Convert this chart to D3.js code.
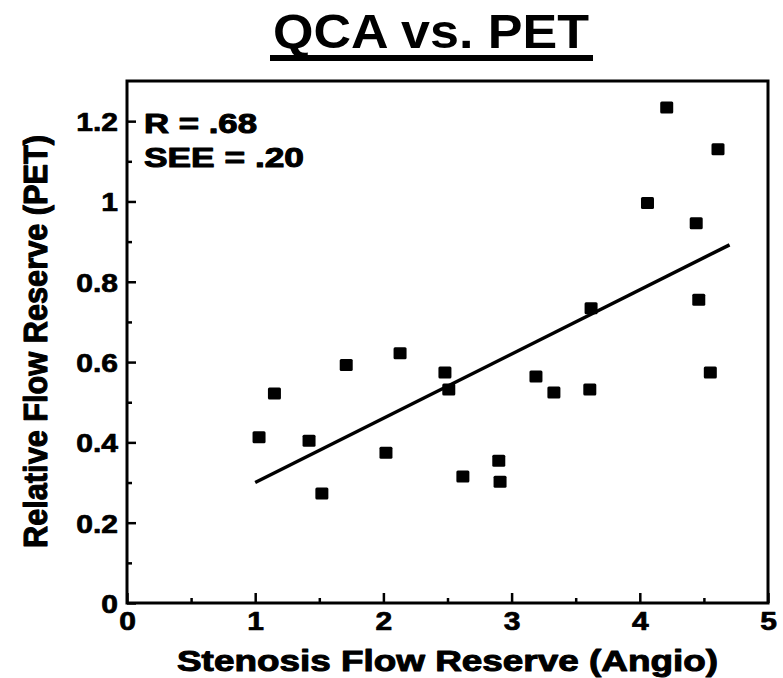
<!DOCTYPE html>
<html>
<head>
<meta charset="utf-8">
<script src="https://cdn.jsdelivr.net/npm/d3@7"></script>
<style>
  html, body { margin: 0; padding: 0; background: #fff; }
  svg { display: block; }
  text { font-family: "Liberation Sans", Arial, Helvetica, sans-serif; font-weight: bold; fill: #000; }
  .heavy { stroke: #000; stroke-width: 1px; stroke-linejoin: round; }
  .tick text { stroke: #000; stroke-width: 0.7px; stroke-linejoin: round; }
</style>
</head>
<body>
<svg id="chart" width="783" height="678"></svg>
<script>
// ---- data ----
const title = "QCA vs. PET";
const xTitle = "Stenosis Flow Reserve (Angio)";
const yTitle = "Relative Flow Reserve (PET)";
const annotations = ["R = .68", "SEE = .20"];

const xValues = [4.21, 4.61, 4.06, 4.44, 4.46, 3.62, 2.13, 1.71, 1.15, 1.03, 1.42,
                 1.52, 2.02, 2.48, 2.51, 3.19, 3.33, 3.61, 4.55, 2.62, 2.90, 2.91];
const yValues = [1.234, 1.13, 0.996, 0.946, 0.755, 0.734, 0.622, 0.593, 0.522, 0.413, 0.404,
                 0.273, 0.374, 0.574, 0.532, 0.564, 0.524, 0.532, 0.574, 0.315, 0.354, 0.302];

const fitX = [1.0, 4.7];
const fitY = [0.30, 0.892];

const xMajorTicks = [0, 1, 2, 3, 4, 5];
const xMinorTicks = [0.5, 1.5, 2.5, 3.5, 4.5];
const yMajorTicks = [0, 0.2, 0.4, 0.6, 0.8, 1, 1.2];
const yMinorTicks = [0.1, 0.3, 0.5, 0.7, 0.9, 1.1];
const yTickLabels = ["0", "0.2", "0.4", "0.6", "0.8", "1", "1.2"];
const xTickLabels = ["0", "1", "2", "3", "4", "5"];

(function () {
// ---- layout ----
const svg = d3.select("#chart");
const pLeft = 127, pRight = 768, pTop = 81, pBottom = 603;
const sx = 1.2; // horizontal stretch of the printed lettering

const x = d3.scaleLinear().domain([0, 5]).range([pLeft, pRight]);
const y = d3.scaleLinear().domain([0, 1.3]).range([pBottom, pTop]);

// title
svg.append("text")
  .attr("x", 431).attr("y", 48)
  .attr("text-anchor", "middle")
  .attr("font-size", 49)
  .attr("textLength", 316).attr("lengthAdjust", "spacingAndGlyphs")
  .text(title);
svg.append("rect")
  .attr("x", 270).attr("y", 55).attr("width", 323).attr("height", 6)
  .attr("fill", "#000");

// axes - major
const yAxis = d3.axisLeft(y)
  .tickValues(yMajorTicks)
  .tickFormat((d, i) => yTickLabels[i])
  .tickSizeInner(-9).tickSizeOuter(0).tickPadding(0);
const gy = svg.append("g").attr("transform", `translate(${pLeft},0)`).call(yAxis);
gy.select(".domain").remove();
gy.selectAll("line").attr("stroke", "#000").attr("stroke-width", 2.5);
gy.selectAll("text")
  .attr("font-size", 25).attr("font-family", null)
  .attr("x", -9 / sx).attr("dy", "0.38em")
  .attr("transform", `scale(${sx},1)`);

const xAxis = d3.axisBottom(x)
  .tickValues(xMajorTicks)
  .tickFormat((d, i) => xTickLabels[i])
  .tickSizeInner(-10).tickSizeOuter(0).tickPadding(0);
const gx = svg.append("g").attr("transform", `translate(0,${pBottom})`).call(xAxis);
gx.select(".domain").remove();
gx.selectAll("line").attr("stroke", "#000").attr("stroke-width", 2.5);
gx.selectAll("text")
  .attr("font-size", 25).attr("font-family", null)
  .attr("y", 27).attr("dy", 0)
  .attr("transform", `scale(${sx},1)`);

// axes - minor
const gym = svg.append("g").attr("transform", `translate(${pLeft},0)`)
  .call(d3.axisLeft(y).tickValues(yMinorTicks).tickFormat("").tickSizeInner(-5).tickSizeOuter(0));
gym.select(".domain").remove();
gym.selectAll("line").attr("stroke", "#000").attr("stroke-width", 2.5);

const gxm = svg.append("g").attr("transform", `translate(0,${pBottom})`)
  .call(d3.axisBottom(x).tickValues(xMinorTicks).tickFormat("").tickSizeInner(-5).tickSizeOuter(0));
gxm.select(".domain").remove();
gxm.selectAll("line").attr("stroke", "#000").attr("stroke-width", 2.5);

// frame
svg.append("rect")
  .attr("x", x(0)).attr("y", y(1.3))
  .attr("width", x(5) - x(0)).attr("height", y(0) - y(1.3))
  .attr("fill", "none").attr("stroke", "#000").attr("stroke-width", 3);

// regression line
svg.append("line")
  .attr("x1", x(fitX[0])).attr("y1", y(fitY[0]))
  .attr("x2", x(fitX[1])).attr("y2", y(fitY[1]))
  .attr("stroke", "#000").attr("stroke-width", 3.5);

// points
const pts = xValues.map((v, i) => ({ x: v, y: yValues[i] }));
const mw = 13, mh = 12;
svg.append("g").selectAll("rect").data(pts).join("rect")
  .attr("x", d => x(d.x) - mw / 2).attr("y", d => y(d.y) - mh / 2)
  .attr("width", mw).attr("height", mh).attr("rx", 1.5)
  .attr("fill", "#000");

// annotations
svg.append("text").attr("class", "heavy").attr("x", 144).attr("y", 133)
  .attr("font-size", 27)
  .attr("textLength", 113).attr("lengthAdjust", "spacingAndGlyphs")
  .text(annotations[0]);
svg.append("text").attr("class", "heavy").attr("x", 144).attr("y", 167)
  .attr("font-size", 27)
  .attr("textLength", 160).attr("lengthAdjust", "spacingAndGlyphs")
  .text(annotations[1]);

// axis titles
svg.append("text").attr("class", "heavy")
  .attr("x", (pLeft + pRight) / 2).attr("y", 671)
  .attr("text-anchor", "middle")
  .attr("font-size", 30)
  .attr("textLength", 541).attr("lengthAdjust", "spacingAndGlyphs")
  .text(xTitle);

svg.append("text").attr("class", "heavy")
  .attr("transform", `translate(47,341.5) rotate(-90) scale(1,1.08)`)
  .attr("text-anchor", "middle")
  .attr("font-size", 31)
  .attr("textLength", 413).attr("lengthAdjust", "spacingAndGlyphs")
  .text(yTitle);
})();
</script>
</body>
</html>
